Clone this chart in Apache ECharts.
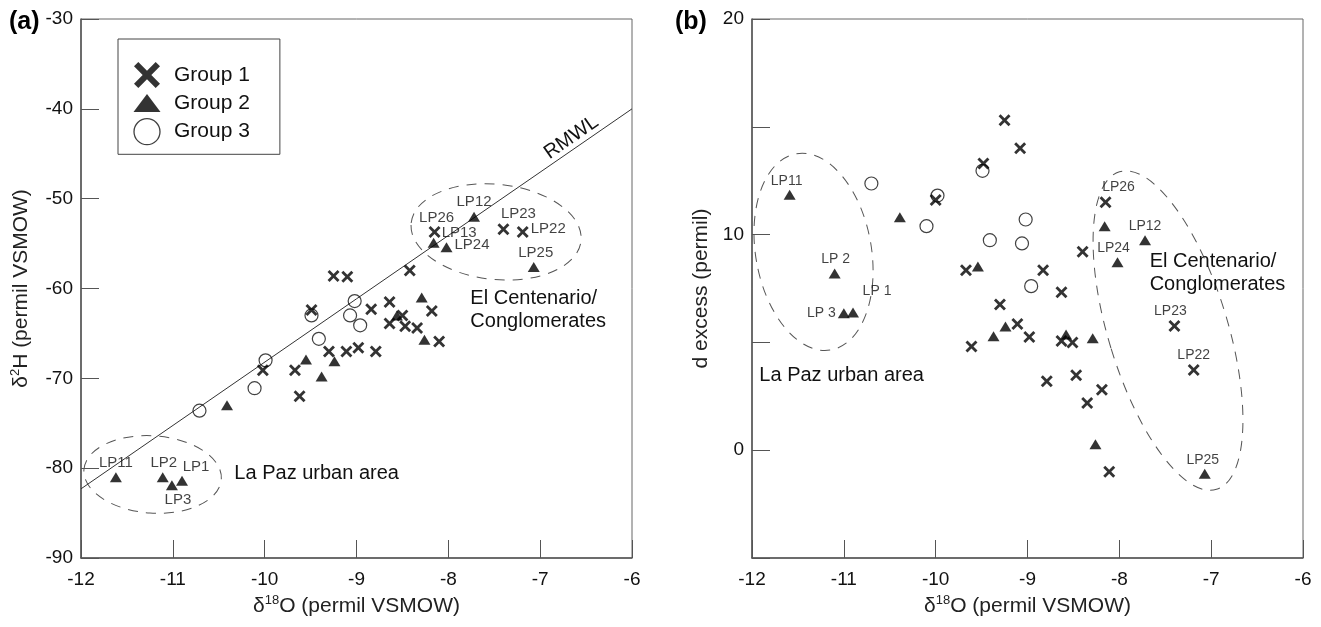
<!DOCTYPE html>
<html lang="en">
<head>
    <meta charset="UTF-8">
    <title>d18O vs d2H and d-excess</title>
    <script src="https://cdn.jsdelivr.net/npm/echarts@6/dist/echarts.min.js"></script>
    <style>
        body { margin: 0; background: #fff; }
        #chart { width: 1321px; height: 627px; }
    </style>
</head>
<body>
    <div id="chart"></div>
    <script>
        // ---- data ----
        // panel (a): d18O, d2H, sample label
        const g1A = [
            [-8.15, -53.7, 'LP26'], [-7.40, -53.4, 'LP23'], [-7.19, -53.7, 'LP22'],
            [-8.42, -58.0, ''], [-9.25, -58.6, ''], [-9.10, -58.7, ''], [-9.49, -62.4, ''],
            [-8.84, -62.3, ''], [-8.64, -61.5, ''], [-8.18, -62.5, ''], [-8.64, -63.9, ''],
            [-8.50, -63.0, ''], [-8.47, -64.2, ''], [-8.34, -64.4, ''], [-8.10, -65.9, ''],
            [-9.30, -67.0, ''], [-9.11, -67.0, ''], [-8.98, -66.6, ''], [-8.79, -67.0, ''],
            [-10.02, -69.1, ''], [-9.67, -69.1, ''], [-9.62, -72.0, '']
        ];
        const g2A = [
            [-7.72, -52.0, 'LP12'], [-8.16, -54.9, 'LP13'], [-8.02, -55.4, 'LP24'],
            [-7.07, -57.6, 'LP25'], [-8.29, -61.0, ''], [-8.56, -63.0, ''], [-8.26, -65.7, ''],
            [-9.55, -67.9, ''], [-9.24, -68.1, ''], [-9.38, -69.8, ''], [-10.41, -73.0, ''],
            [-11.62, -81.0, 'LP11'], [-11.11, -81.0, 'LP2'], [-11.01, -81.9, 'LP3'],
            [-10.90, -81.4, 'LP1']
        ];
        const g3A = [
            [-9.02, -61.4, ''], [-9.49, -63.0, ''], [-9.07, -63.0, ''], [-8.96, -64.1, ''],
            [-9.41, -65.6, ''], [-9.99, -68.0, ''], [-10.11, -71.1, ''], [-10.71, -73.6, '']
        ];
        const rmwl = [[-12, -82.3], [-6, -40.0]];

        // panel (b): d18O, d excess, sample label
        const g1B = [
            [-9.25, 15.3, ''], [-9.08, 14.0, ''], [-9.48, 13.3, ''], [-10.00, 11.6, ''],
            [-8.15, 11.5, 'LP26'], [-8.40, 9.2, ''], [-9.67, 8.35, ''], [-8.83, 8.35, ''],
            [-8.63, 7.33, ''], [-9.30, 6.76, ''], [-9.11, 5.85, ''], [-7.40, 5.76, 'LP23'],
            [-8.98, 5.25, ''], [-8.63, 5.06, ''], [-8.51, 5.0, ''], [-9.61, 4.81, ''],
            [-7.19, 3.72, 'LP22'], [-8.47, 3.48, ''], [-8.79, 3.2, ''], [-8.19, 2.8, ''],
            [-8.35, 2.19, ''], [-8.11, -1.0, '']
        ];
        const g2B = [
            [-11.59, 11.85, 'LP11'], [-10.39, 10.8, ''], [-8.16, 10.39, ''], [-7.72, 9.74, 'LP12'],
            [-8.02, 8.72, 'LP24'], [-9.54, 8.52, ''], [-11.10, 8.19, 'LP 2'], [-11.00, 6.35, 'LP 3'],
            [-10.90, 6.39, 'LP 1'], [-9.24, 5.74, ''], [-9.37, 5.28, ''], [-8.58, 5.37, ''],
            [-8.29, 5.19, ''], [-8.26, 0.28, ''], [-7.07, -1.09, 'LP25']
        ];
        const g3B = [
            [-10.70, 12.37, ''], [-9.98, 11.81, ''], [-9.49, 12.96, ''], [-10.10, 10.39, ''],
            [-9.02, 10.70, ''], [-9.41, 9.74, ''], [-9.06, 9.59, ''], [-8.96, 7.61, '']
        ];

        const xTicks = [-12, -11, -10, -9, -8, -7, -6];

        // dashed outlines: centre x, centre y, half width (x units), half height (y units), tilt deg
        const ringsA = [[-11.22, -80.7, 0.75, 4.3, -4], [-7.48, -53.7, 0.93, 5.3, -6]];
        const ringsB = [[-11.33, 9.2, 0.63, 4.62, 10], [-7.47, 5.55, 0.65, 7.7, 17]];

        // text notes placed in data space
        const notesA = [
            { at: [-10.33, -80.6], text: 'La Paz urban area' },
            { at: [-7.76, -62.35], text: 'El Centenario/\nConglomerates' },
            { at: [-6.66, -43.2], text: 'RMWL', rot: 35, align: 'center' }
        ];
        const notesB = [
            { at: [-11.92, 3.48], text: 'La Paz urban area' },
            { at: [-7.67, 8.23], text: 'El Centenario/\nConglomerates' }
        ];

        // where each sample label sits relative to its marker
        const labelPosA = {
            LP26: ['top', [2, 1]], LP13: ['right', [0, -10]], LP24: ['right', [0, -2]],
            LP12: ['top', [0, 0]], LP23: ['top', [15, 0]], LP22: ['right', [0, -3]],
            LP25: ['top', [2, 0]], LP11: ['top', [0, 0]], LP2: ['top', [1, 0]],
            LP1: ['top', [14, 1]], LP3: ['bottom', [6, 0]]
        };
        const labelPosB = {
            LP11: ['top', [-3, 0]], 'LP 2': ['top', [1, 0]], 'LP 1': ['top', [24, -7]],
            'LP 3': ['left', [0, 0]], LP26: ['top', [13, 0]], LP12: ['top', [0, 0]],
            LP24: ['top', [-4, 0]], LP23: ['top', [-4, 0]], LP22: ['top', [0, 0]],
            LP25: ['top', [-2, 0]]
        };

        const FONT = "'Liberation Sans', Arial, sans-serif";
        const CROSS = 'path://M0,2L2,0L6,4L10,0L12,2L8,6L12,10L10,12L6,8L2,12L0,10L4,6Z';
        const TRI_ICON = 'path://M0,0M28,26M0.5,22L14,4L27.5,22Z';

        function toItems(pts, posMap, fontSize) {
            return pts.map(p => {
                const item = { value: [p[0], p[1]] };
                if (p[2]) {
                    const pos = posMap[p[2]] || ['top', [0, 0]];
                    item.label = {
                        show: true, formatter: p[2], position: pos[0], offset: pos[1],
                        distance: 2, fontSize: fontSize, color: '#111', fontFamily: FONT
                    };
                }
                return item;
            });
        }

        function scatter(name, pts, posMap, idx, fontSize) {
            const base = {
                name: name, type: 'scatter', xAxisIndex: idx, yAxisIndex: idx,
                data: toItems(pts, posMap, fontSize), silent: true
            };
            if (name === 'Group 1') {
                return Object.assign(base, { symbol: CROSS, symbolSize: 12, itemStyle: { color: '#000' }, z: 4 });
            }
            if (name === 'Group 2') {
                return Object.assign(base, { symbol: 'triangle', symbolSize: [12, 10], itemStyle: { color: '#000' }, z: 3 });
            }
            return Object.assign(base, {
                symbol: 'circle', symbolSize: 13, z: 2,
                itemStyle: { color: 'rgba(255,255,255,0)', borderColor: '#111', borderWidth: 1.2 }
            });
        }

        function rings(data, idx) {
            return {
                type: 'custom', xAxisIndex: idx, yAxisIndex: idx, silent: true, z: 1,
                data: data,
                renderItem: function (params, api) {
                    const c = api.coord([api.value(0), api.value(1)]);
                    const s = api.size([api.value(2), api.value(3)]);
                    return {
                        type: 'ellipse', x: c[0], y: c[1],
                        rotation: api.value(4) * Math.PI / 180,
                        shape: { cx: 0, cy: 0, rx: s[0], ry: s[1] },
                        style: { fill: 'none', stroke: '#555', lineWidth: 1, lineDash: [10, 8] }
                    };
                }
            };
        }

        function notes(list, idx) {
            return {
                type: 'custom', xAxisIndex: idx, yAxisIndex: idx, silent: true, z: 5,
                data: list.map(n => n.at),
                renderItem: function (params, api) {
                    const n = list[params.dataIndex];
                    const c = api.coord([api.value(0), api.value(1)]);
                    return {
                        type: 'text', x: c[0], y: c[1],
                        rotation: (n.rot || 0) * Math.PI / 180,
                        style: {
                            text: n.text, fill: '#111', fontSize: 20, fontFamily: FONT,
                            lineHeight: 23, align: n.align || 'left', verticalAlign: 'middle'
                        }
                    };
                }
            };
        }

        const axisLine = { show: true, onZero: false, lineStyle: { color: '#555', width: 1.5 } };
        const axisTick = { show: true, inside: true, length: 18, lineStyle: { color: '#555', width: 1 } };
        const nameRich = {
            t: { fontSize: 21, color: '#222', fontFamily: FONT },
            s: { fontSize: 13, color: '#222', fontFamily: FONT, verticalAlign: 'top', lineHeight: 24 }
        };

        function xAxis(idx) {
            return {
                type: 'value', gridIndex: idx, min: xTicks[0], max: xTicks[xTicks.length - 1], interval: 1,
                axisLine: axisLine, axisTick: axisTick, splitLine: { show: false },
                axisLabel: { fontSize: 19, color: '#111', margin: 12, fontFamily: FONT },
                name: '{t|δ}{s|18}{t|O (permil VSMOW)}', nameLocation: 'middle', nameGap: 36,
                nameTextStyle: { rich: nameRich }
            };
        }

        const chart = echarts.init(document.getElementById('chart'), null, { renderer: 'canvas' });
        chart.setOption({
            animation: false,
            backgroundColor: '#fff',
            textStyle: { fontFamily: FONT },
            grid: [
                { left: 81, top: 19, width: 551, height: 539, show: true, borderColor: '#666', borderWidth: 1 },
                { left: 752, top: 19, width: 551, height: 539, show: true, borderColor: '#666', borderWidth: 1 }
            ],
            xAxis: [xAxis(0), xAxis(1)],
            yAxis: [
                {
                    type: 'value', gridIndex: 0, min: -90, max: -30, interval: 10,
                    axisLine: axisLine, axisTick: axisTick, splitLine: { show: false },
                    axisLabel: { fontSize: 19, color: '#111', margin: 8, fontFamily: FONT },
                    name: '{t|δ}{s|2}{t|H (permil VSMOW)}', nameLocation: 'middle', nameGap: 48,
                    nameTextStyle: { rich: nameRich }
                },
                {
                    type: 'value', gridIndex: 1, min: -5, max: 20, interval: 5,
                    axisLine: axisLine, axisTick: axisTick, splitLine: { show: false },
                    axisLabel: {
                        fontSize: 19, color: '#111', margin: 8, fontFamily: FONT,
                        formatter: v => (v % 10 === 0 ? String(v) : '')
                    },
                    name: 'd excess (permil)', nameLocation: 'middle', nameGap: 40,
                    nameTextStyle: { fontSize: 21, color: '#222', fontFamily: FONT }
                }
            ],
            legend: {
                left: 118, top: 39, orient: 'vertical',
                itemWidth: 28, itemHeight: 26, itemGap: 2,
                padding: [23, 30, 9, 15],
                borderColor: '#444', borderWidth: 1,
                selectedMode: false,
                textStyle: { fontSize: 21, color: '#111', fontFamily: FONT, padding: [0, 0, 0, 8] },
                data: [
                    { name: 'Group 1', icon: CROSS, itemStyle: { color: '#000' } },
                    { name: 'Group 2', icon: TRI_ICON, itemStyle: { color: '#000' } },
                    { name: 'Group 3', icon: 'circle', itemStyle: { color: 'rgba(255,255,255,0)', borderColor: '#111', borderWidth: 1.3 } }
                ]
            },
            graphic: [
                { type: 'text', left: 9, top: 10, style: { text: '(a)', font: 'bold 25px ' + FONT, fill: '#000' } },
                { type: 'text', left: 675, top: 10, style: { text: '(b)', font: 'bold 25px ' + FONT, fill: '#000' } }
            ],
            series: [
                {
                    name: 'RMWL', type: 'line', xAxisIndex: 0, yAxisIndex: 0, data: rmwl,
                    symbol: 'none', silent: true, z: 1,
                    lineStyle: { color: '#333', width: 1 }
                },
                rings(ringsA, 0),
                scatter('Group 3', g3A, labelPosA, 0, 15),
                scatter('Group 2', g2A, labelPosA, 0, 15),
                scatter('Group 1', g1A, labelPosA, 0, 15),
                notes(notesA, 0),
                rings(ringsB, 1),
                scatter('Group 3', g3B, labelPosB, 1, 14),
                scatter('Group 2', g2B, labelPosB, 1, 14),
                scatter('Group 1', g1B, labelPosB, 1, 14),
                notes(notesB, 1)
            ]
        });
    </script>
</body>
</html>
